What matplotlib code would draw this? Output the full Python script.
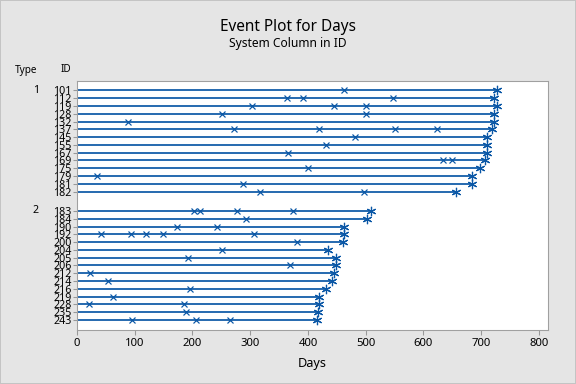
import matplotlib
matplotlib.use("Agg")
import matplotlib.pyplot as plt

plt.rcParams['font.family'] = ['Noto Sans', 'DejaVu Sans']

# Event plot data
type1_ids = [101, 112, 119, 128, 132, 137, 145, 155, 167, 169, 175, 179, 181, 182]
type1_end = [728, 723, 728, 723, 723, 719, 710, 710, 710, 706, 699, 685, 685, 656]
type1_events = [
    [462],
    [363, 391, 548],
    [303, 445, 500],
    [252, 500],
    [89],
    [272, 420, 551, 624],
    [481],
    [431],
    [366],
    [634, 649],
    [401],
    [34],
    [288],
    [317, 498],
]

type2_ids = [183, 184, 190, 192, 200, 204, 205, 206, 212, 214, 216, 219, 228, 235, 243]
type2_end = [510, 503, 463, 462, 460, 434, 448, 448, 446, 441, 432, 419, 419, 417, 415]
type2_events = [
    [203, 213, 277, 374],
    [293],
    [174, 242],
    [41, 93, 120, 149, 307],
    [382],
    [251],
    [193],
    [369],
    [23],
    [54],
    [195],
    [62],
    [20, 186],
    [188],
    [95, 207, 265],
]

blue = '#0a57a6'
bg = '#e5e5e5'

fig = plt.figure(figsize=(6, 4), dpi=96, facecolor=bg)
fig.patch.set_edgecolor('#c4c4c4')
fig.patch.set_linewidth(1.5)
ax = fig.add_axes([77/576, 1 - 330/384, (548 - 77)/576, (330 - 80.7)/384])

# y positions: type 1 rows, a gap, then type 2 rows
groups = [(type1_ids, type1_end, type1_events), (type2_ids, type2_end, type2_events)]
ypos, labels = [], []
start = 0
first_rows = []
for ids, ends, events in groups:
    first_rows.append(start)
    for i, (sid, end, ev) in enumerate(zip(ids, ends, events)):
        y = start + i
        ax.plot([0, end], [y, y], color=blue, lw=1.3, zorder=2)
        ax.plot(ev, [y]*len(ev), linestyle='none', marker='x', markersize=5,
                markeredgewidth=0.9, color=blue, zorder=3)
        ax.plot([end], [y], linestyle='none', marker=(6, 2, 0), markersize=7,
                markeredgewidth=0.9, color=blue, zorder=3)
        ypos.append(y)
        labels.append(str(sid))
    start = start + len(ids) + 1.5

ax.set_xlim(0, 816)
ax.set_ylim(29.5 + 1.3, -1.25)
ax.set_xticks(range(0, 900, 100))
ax.set_yticks(ypos)
ax.set_yticklabels(labels)
ax.tick_params(axis='x', labelsize=8.5, length=4, color='#999999', pad=2)
ax.tick_params(axis='y', labelsize=8, length=3, color='#999999', pad=1)
for s in ax.spines.values():
    s.set_color('#a0a0a0')
ax.set_xlabel('Days', fontsize=9.5, labelpad=6)

# headers and group labels
fig.text(26/576, 1 - 70/384, 'Type', fontsize=7.5, ha='center', va='center')
fig.text(66/576, 1 - 70/384, 'ID', fontsize=7.5, ha='center', va='center')
for k, row in enumerate(first_rows):
    ypix = 90.3 + row * 7.76
    fig.text(36/576, 1 - ypix/384, str(k + 1), fontsize=8, ha='center', va='center')

fig.text(0.5, 1 - 27/384, 'Event Plot for Days', fontsize=11.5, ha='center', va='center')
fig.text(0.5, 1 - 44/384, 'System Column in ID', fontsize=9, ha='center', va='center')

fig.savefig('out.png', dpi=96, facecolor=fig.get_facecolor(), edgecolor=fig.get_edgecolor())
